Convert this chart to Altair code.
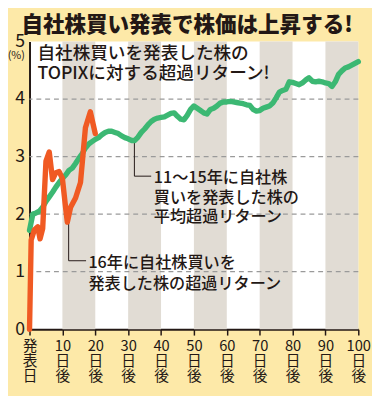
import altair as alt
import pandas as pd

# ---- data ----
green_day = list(range(0, 101))
green_val = [1.72, 2.00, 2.02, 2.05, 2.12, 2.22, 2.30, 2.38, 2.47, 2.55,
             2.62, 2.68, 2.76, 2.80, 2.88, 2.97, 3.05, 3.15, 3.22, 3.26,
             3.30, 3.33, 3.38, 3.42, 3.44, 3.44, 3.42, 3.40, 3.36, 3.33,
             3.31, 3.28, 3.28, 3.34, 3.42, 3.48, 3.55, 3.61, 3.65, 3.67,
             3.68, 3.69, 3.72, 3.75, 3.76, 3.70, 3.65, 3.64, 3.72, 3.82,
             3.88, 3.84, 3.80, 3.76, 3.74, 3.82, 3.84, 3.88, 3.93, 3.95,
             3.95, 3.96, 3.95, 3.94, 3.93, 3.92, 3.90, 3.89, 3.82, 3.79,
             3.80, 3.84, 3.86, 3.88, 3.93, 4.02, 4.12, 4.15, 4.17, 4.30,
             4.29, 4.27, 4.25, 4.28, 4.33, 4.37, 4.31, 4.30, 4.31, 4.30,
             4.28, 4.27, 4.22, 4.30, 4.43, 4.49, 4.54, 4.56, 4.59, 4.62,
             4.65]
orange_day = [0, 0.5, 1.5, 2.5, 3.2, 4, 5, 6, 7, 8, 9, 10, 11, 11.5,
              12.5, 14, 15.5, 17, 18.5, 19.2, 20]
orange_val = [0.0, 1.55, 1.73, 1.78, 1.57, 1.75, 2.92, 3.08, 2.60, 2.72,
              2.74, 2.62, 2.10, 1.86, 2.12, 2.28, 2.55, 3.50, 3.78, 3.60,
              3.40]

stripe_start = [10, 30, 50, 70, 90]
stripe_end = [20, 40, 60, 80, 100]
grid_vals = [1, 2, 3, 4]
x_ticks = list(range(0, 101, 10))
y_ticks = [0, 1, 2, 3, 4, 5]

title_text = "自社株買い発表で株価は上昇する!"
note_main = "自社株買いを発表した株の\nTOPIXに対する超過リターン!"
note_green = "11〜15年に自社株\n買いを発表した株の\n平均超過リターン"
note_orange = "16年に自社株買いを\n発表した株の超過リターン"

# annotation anchors (data units)
note_main_pos = (2.4, 4.94)
note_green_pos = (37.8, 2.76)
note_orange_pos = (17.9, 1.28)
green_leader_day = [31.9, 31.9, 37.0]
green_leader_val = [3.28, 2.66, 2.66]
orange_leader_day = [11.9, 11.9, 17.2]
orange_leader_val = [1.87, 1.19, 1.19]

# ---- styling ----
YELLOW = "#fde9a8"
STRIPE = "#e1dcd4"
GREEN = "#3cb873"
ORANGE = "#f05a23"
INK = "#231815"
CJK = "Noto Sans CJK JP"
NARROW = "'Liberation Sans Narrow', 'Noto Sans CJK JP', sans-serif"

xscale = alt.Scale(domain=[0, 100], nice=False, zero=False)
yscale = alt.Scale(domain=[0, 5], nice=False)

stripes = pd.DataFrame({"s": stripe_start, "e": stripe_end})
green = pd.DataFrame({"d": green_day, "v": green_val})
orange = pd.DataFrame({"d": orange_day, "v": orange_val})
grid = pd.DataFrame({"v": grid_vals})
gl = pd.DataFrame({"d": green_leader_day, "v": green_leader_val, "o": [0, 1, 2]})
ol = pd.DataFrame({"d": orange_leader_day, "v": orange_leader_val, "o": [0, 1, 2]})

xaxis = alt.Axis(values=x_ticks, title=None, grid=False, labelFlush=False, labelOverlap=False,
                 labelExpr="datum.value == 0 ? ['発','表','日'] : [datum.label, '日', '後']",
                 labelFont=NARROW, labelFontSize=15, labelLineHeight=15,
                 labelColor=INK, labelBaseline="top", labelPadding=4,
                 tickColor=INK, tickSize=6, tickWidth=1.5,
                 domainColor=INK, domainWidth=2)
yaxis = alt.Axis(values=y_ticks, format="d", title="(%)", titleAngle=0, titleX=-14, titleY=14,
                 titleAlign="center", titleBaseline="middle", titleFont=CJK,
                 titleFontSize=11, titleFontWeight="normal", titleColor=INK,
                 grid=False, ticks=False, labelPadding=5, labelOverlap=False,
                 labelFont=NARROW, labelFontSize=18, labelColor=INK,
                 domainColor=INK, domainWidth=2)


def X(field):
    return alt.X(field, scale=xscale, axis=xaxis)


def Y(field):
    return alt.Y(field, scale=yscale, axis=yaxis)


stripe_layer = alt.Chart(stripes).mark_rect(color=STRIPE).encode(
    x=X("s:Q"), x2="e:Q", y=alt.value(0), y2=alt.value(294))

grid_layer = alt.Chart(grid).mark_rule(color="#9a9a9a", strokeDash=[5, 4], strokeWidth=1.2).encode(
    y=Y("v:Q"))

gl_layer = alt.Chart(gl).mark_line(color=INK, strokeWidth=1).encode(
    x=X("d:Q"), y=Y("v:Q"), order="o:Q")
ol_layer = alt.Chart(ol).mark_line(color=INK, strokeWidth=1).encode(
    x=X("d:Q"), y=Y("v:Q"), order="o:Q")

green_layer = alt.Chart(green).mark_line(color=GREEN, strokeWidth=5.5, strokeCap="round", strokeJoin="round").encode(
    x=X("d:Q"), y=Y("v:Q"))
orange_layer = alt.Chart(orange).mark_line(color=ORANGE, strokeWidth=5.5, strokeCap="round", strokeJoin="round").encode(
    x=X("d:Q"), y=Y("v:Q"))


def note(text, pos, size, lh):
    df = pd.DataFrame({"d": [pos[0]], "v": [pos[1]], "t": [text]})
    return alt.Chart(df).mark_text(align="left", baseline="top", lineBreak="\n",
                                   lineHeight=lh, font=CJK, fontSize=size, fontWeight=500,
                                   color=INK).encode(
        x=X("d:Q"), y=Y("v:Q"), text="t:N")


chart = alt.layer(
    stripe_layer, grid_layer, gl_layer, ol_layer, green_layer, orange_layer,
    note(note_main, note_main_pos, 18, 21),
    note(note_green, note_green_pos, 16.5, 20),
    note(note_orange, note_orange_pos, 16.5, 21),
).properties(
    width=336, height=294,
    autosize=alt.AutoSizeParams(type="none"),
    padding={"left": 22, "top": 30, "right": 14, "bottom": 64},
    background=YELLOW,
    title=alt.TitleParams(title_text, font=CJK, fontSize=22, fontWeight=900,
                          color=INK, anchor="middle", dx=-7, offset=6, dy=10),
).configure_view(fill="white", stroke=None)

chart.save("out.html", embed_options={"renderer": "svg", "actions": False})
